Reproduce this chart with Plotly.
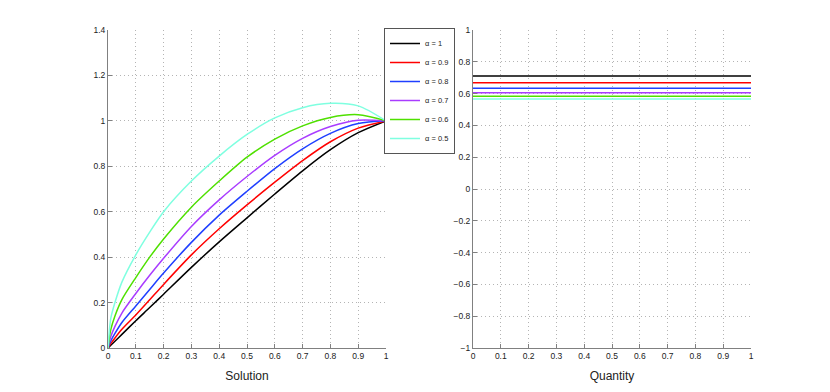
import plotly.graph_objects as go

# ---- data ----
x_pts = [0, 0.01, 0.025, 0.05, 0.1, 0.15, 0.2, 0.3, 0.4, 0.5, 0.6, 0.7, 0.8, 0.9, 1.0]
labels = ["α = 1", "α = 0.9", "α = 0.8", "α = 0.7", "α = 0.6", "α = 0.5"]
sol_a10 = [0, 0.012, 0.03, 0.06, 0.12, 0.178, 0.237, 0.355, 0.467, 0.573, 0.678, 0.78, 0.873, 0.948, 1.0]
sol_a09 = [0, 0.019, 0.044, 0.082, 0.145, 0.212, 0.28, 0.41, 0.525, 0.63, 0.73, 0.825, 0.908, 0.968, 1.0]
sol_a08 = [0, 0.031, 0.064, 0.112, 0.185, 0.258, 0.33, 0.465, 0.585, 0.69, 0.79, 0.877, 0.945, 0.988, 1.0]
sol_a07 = [0, 0.05, 0.095, 0.154, 0.24, 0.32, 0.395, 0.535, 0.652, 0.755, 0.848, 0.923, 0.975, 1.003, 1.0]
sol_a06 = [0, 0.081, 0.141, 0.213, 0.31, 0.40, 0.48, 0.62, 0.735, 0.84, 0.92, 0.978, 1.015, 1.027, 1.0]
sol_a05 = [0, 0.13, 0.2, 0.29, 0.41, 0.51, 0.60, 0.735, 0.845, 0.94, 1.013, 1.058, 1.077, 1.066, 1.0]
solutions = [sol_a10, sol_a09, sol_a08, sol_a07, sol_a06, sol_a05]
quantity = [0.711, 0.669, 0.633, 0.606, 0.583, 0.566]
q_x = [0, 1]
colors = ["#000000", "#ff0000", "#1f3fff", "#a93cff", "#4fe000", "#7fffe0"]

fig = go.Figure()
for lab, ys, c in zip(labels, solutions, colors):
    fig.add_trace(go.Scatter(x=x_pts, y=ys, mode="lines", name=lab,
                             line=dict(color=c, width=1.5, shape="spline", smoothing=0.8),
                             xaxis="x", yaxis="y"))
for lab, q, c in zip(labels, quantity, colors):
    fig.add_trace(go.Scatter(x=q_x, y=[q, q], mode="lines", name=lab, showlegend=False,
                             line=dict(color=c, width=1.5), xaxis="x2", yaxis="y2"))

# layout geometry (pixels in an 830x392 figure)
ML, MR, MT, MB = 60, 40, 20, 40
PW, PH = 830 - ML - MR, 392 - MT - MB
def fx(px):
    return (px - ML) / PW
def fy(py):
    return 1 - (py - MT) / PH

font = dict(family="Liberation Sans, Arial, sans-serif", size=8.5, color="#222")
ax_common = dict(showline=True, linecolor="#808080", linewidth=1, mirror=False,
                 ticks="inside", ticklen=4, tickcolor="#808080",
                 showgrid=True, griddash="1px,3px", gridcolor="#b4b4b4", gridwidth=1,
                 zeroline=False, tickfont=font, automargin=False)

fig.update_layout(
    width=830, height=392,
    margin=dict(l=ML, r=MR, t=MT, b=MB),
    paper_bgcolor="white", plot_bgcolor="white",
    font=font,
    xaxis=dict(domain=[fx(108), fx(386)], range=[0, 1], dtick=0.1, tick0=0,
               title=dict(text="Solution", font=dict(size=12, color="#222"), standoff=11),
               anchor="y", **ax_common),
    yaxis=dict(domain=[fy(348), fy(30)], range=[0, 1.4], dtick=0.2, tick0=0,
               anchor="x", **ax_common),
    xaxis2=dict(domain=[fx(473), fx(751)], range=[0, 1], dtick=0.1, tick0=0,
                title=dict(text="Quantity", font=dict(size=12, color="#222"), standoff=11),
                anchor="y2", **ax_common),
    yaxis2=dict(domain=[fy(348), fy(30)], range=[-1, 1], dtick=0.2, tick0=-1,
                anchor="x2", **ax_common),
    legend=dict(x=fx(384), y=fy(28), xanchor="left", yanchor="top",
                bgcolor="white", bordercolor="#555", borderwidth=1,
                font=dict(family="Liberation Sans, Arial, sans-serif", size=7.5, color="#222"),
                tracegroupgap=0, itemwidth=30),
    showlegend=True,
)

fig.write_html("out.html", config={"displayModeBar": False},
               post_script="document.body.style.margin='0';document.body.style.padding='0';")
